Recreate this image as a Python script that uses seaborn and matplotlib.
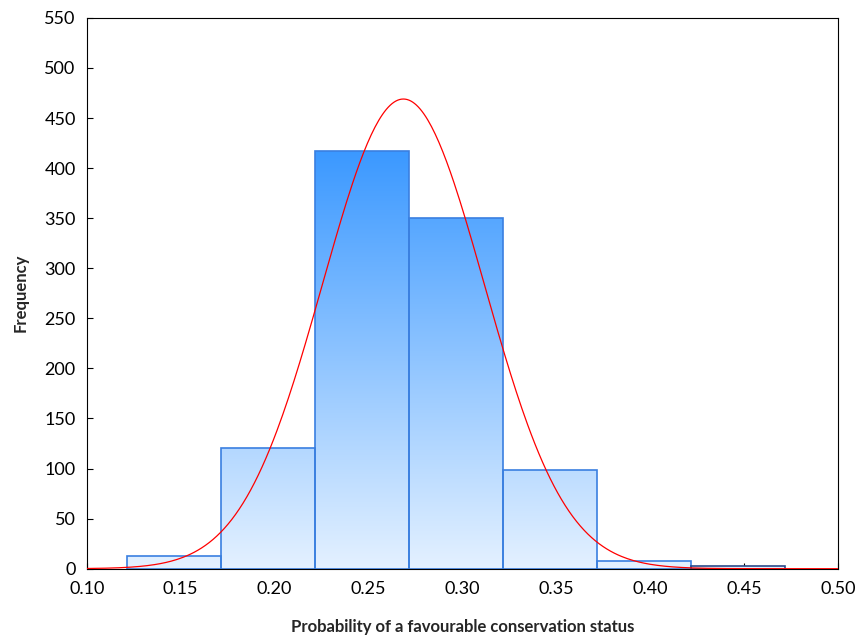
import numpy as np
import pandas as pd
import seaborn as sns
import matplotlib.pyplot as plt
from matplotlib.colors import LinearSegmentedColormap

sns.set_style("white")
plt.rcParams['font.family'] = ['Lato', 'DejaVu Sans']

# histogram counts
bin_edges = [0.1215, 0.1715, 0.2215, 0.2715, 0.3215, 0.3715, 0.4215, 0.4715]
bin_centers = [0.1465, 0.1965, 0.2465, 0.2965, 0.3465, 0.3965, 0.4465]
counts = [13, 121, 417, 350, 99, 8, 3]
# fitted normal curve
fit_mean = 0.2685
fit_sd = 0.043

df = pd.DataFrame({'prob': bin_centers, 'n': counts})

fig, ax = plt.subplots(figsize=(8.59, 6.39), dpi=100)
fig.subplots_adjust(left=0.101, right=0.976, top=0.972, bottom=0.11)

sns.histplot(data=df, x='prob', weights='n', bins=bin_edges, ax=ax,
             color='#3a98ff', edgecolor='#3a7fe0', linewidth=1.2, alpha=1)

# vertical gradient fill, light at zero, strong blue near the top bar
cmap = LinearSegmentedColormap.from_list('g', ['#e4f1ff', '#3a98ff'])
grad = np.linspace(0, 1, 256).reshape(-1, 1)
for p in list(ax.patches):
    p.set_facecolor('none')
    im = ax.imshow(grad, cmap=cmap, origin='lower', aspect='auto',
                   extent=(0.10, 0.50, 0, 420), zorder=p.get_zorder() - 0.1)
    im.set_clip_path(p)
ax.patches[-1].set_edgecolor('#2a4a8a')

xs = np.linspace(0.10, 0.50, 400)
ys = sum(counts) * 0.05 / (fit_sd * np.sqrt(2 * np.pi)) * np.exp(-0.5 * ((xs - fit_mean) / fit_sd) ** 2)
ax.plot(xs, ys, color='red', linewidth=0.9, zorder=5)

ax.set_xlim(0.10, 0.50)
ax.set_ylim(0, 550)
ax.set_xticks(np.arange(0.10, 0.501, 0.05))
ax.set_xticklabels([f'{v:.2f}' for v in np.arange(0.10, 0.501, 0.05)])
ax.set_yticks(range(0, 551, 50))
ax.tick_params(direction='in', length=4, labelsize=13, colors='black',
               bottom=True, left=True)
ax.tick_params(axis='x', pad=9)
ax.tick_params(axis='y', pad=8)
for s in ax.spines.values():
    s.set_color('black')
    s.set_linewidth(0.8)
ax.set_xlabel('Probability of a favourable conservation status',
              fontsize=12, fontweight='bold', labelpad=16)
ax.set_ylabel('Frequency', fontsize=12, fontweight='bold', labelpad=11)

fig.savefig('out.png', dpi=100)
